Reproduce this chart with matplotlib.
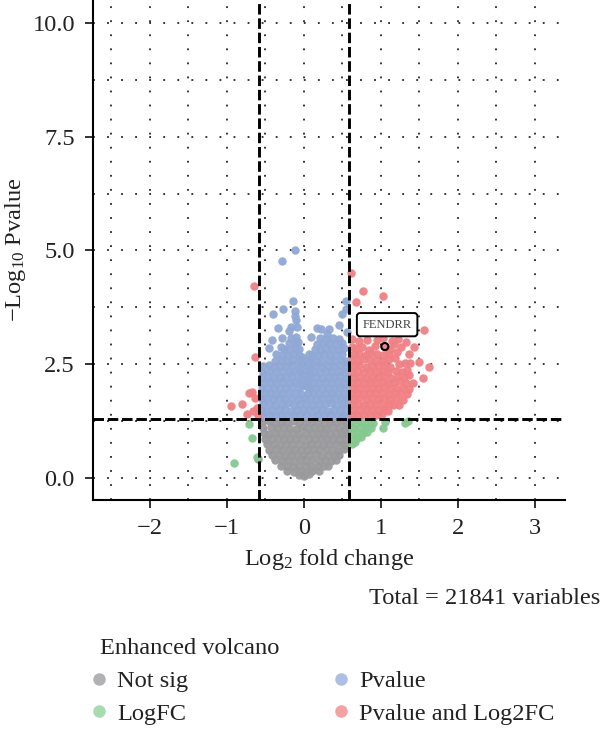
import numpy as np
import matplotlib
matplotlib.use("Agg")
from matplotlib import pyplot as plt
from matplotlib.lines import Line2D
from matplotlib.ticker import MultipleLocator

plt.rcParams['font.family'] = ['Liberation Serif', 'DejaVu Serif']
plt.rcParams['mathtext.fontset'] = 'custom'
plt.rcParams['mathtext.rm'] = 'Liberation Serif'
plt.rcParams['mathtext.default'] = 'regular'

fc_cut = 0.585
p_cut = 1.3

# (log2 fold change, -log10 p) per significance group
not_sig = [
    (-.54,1.23),(-.46,1.25),(-.38,1.22),(-.30,1.24),(-.22,1.23),(-.14,1.25),(-.06,1.22),(.02,1.24),(.10,1.23),(.18,1.25),(.26,1.22),(.34,1.24),(.42,1.23),(.50,1.25),(.55,1.22),
    (-.53,1.11),(-.43,1.12),(-.35,1.10),(-.27,1.12),(-.19,1.11),(-.11,1.09),(-.03,1.12),(.05,1.10),(.13,1.12),(.21,1.11),(.29,1.09),(.37,1.12),(.45,1.10),(.55,1.11),
    (-.52,.99),(-.46,.98),(-.38,1.0),(-.30,.98),(-.22,.99),(-.14,1.0),(-.06,.97),(.02,.99),(.10,1.0),(.18,.98),(.26,.99),(.34,.97),(.42,1.0),(.50,.98),(.55,.99),
    (-.50,.87),(-.42,.86),(-.34,.88),(-.26,.86),(-.18,.87),(-.10,.85),(-.02,.88),(.06,.86),(.14,.87),(.22,.88),(.30,.85),(.38,.87),(.46,.86),(.55,.87),
    (-.48,.74),(-.39,.75),(-.31,.73),(-.23,.75),(-.15,.74),(-.07,.76),(.01,.73),(.09,.75),(.17,.74),(.25,.73),(.33,.75),(.41,.74),(.49,.76),(.55,.73),
    (-.45,.62),(-.36,.63),(-.28,.61),(-.20,.62),(-.12,.63),(-.04,.61),(.04,.62),(.12,.64),(.20,.61),(.28,.63),(.36,.62),(.44,.60),(.52,.63),
    (-.42,.50),(-.33,.51),(-.25,.49),(-.17,.50),(-.09,.51),(-.01,.49),(.07,.50),(.15,.52),(.23,.49),(.31,.50),(.39,.51),(.46,.50),
    (-.37,.39),(-.29,.38),(-.21,.39),(-.13,.37),(-.05,.39),(.03,.38),(.11,.40),(.19,.37),(.27,.39),(.35,.38),(.41,.39),
    (-.30,.26),(-.22,.27),(-.14,.25),(-.06,.27),(.02,.26),(.10,.25),(.18,.27),(.26,.26),(.31,.27),
    (-.22,.16),(-.13,.14),(-.05,.15),(.03,.13),(.11,.15),(.19,.16),
    (-.07,.07),(.0,.04),(.06,.08),(-.60,.42),
]
logfc_only = [
    (.63,1.23),(.71,1.25),(.79,1.22),(.86,1.24),(.90,1.22),
    (.64,1.11),(.72,1.12),(.80,1.10),(.87,1.11),
    (.63,.99),(.70,.98),(.77,1.0),(.82,1.02),
    (.63,.87),(.69,.88),(.74,.91),
    (.62,.76),(.66,.79),
    (-.71,1.19),(-.68,.89),(-.91,.34),(-.61,.47),(1.05,1.24),(1.02,1.10),(1.31,1.22),(1.35,1.25),
]
pvalue_only = [
    (-.53,1.36),(-.46,1.39),(-.38,1.36),(-.30,1.38),(-.22,1.37),(-.14,1.39),(-.06,1.36),(.02,1.38),(.10,1.37),(.18,1.39),(.26,1.36),(.34,1.38),(.42,1.37),(.50,1.39),(.55,1.36),
    (-.54,1.50),(-.49,1.48),(-.41,1.50),(-.33,1.49),(-.25,1.51),(-.17,1.48),(-.09,1.50),(-.01,1.49),(.07,1.51),(.15,1.49),(.23,1.50),(.31,1.48),(.39,1.50),(.47,1.49),(.55,1.51),
    (-.53,1.62),(-.45,1.63),(-.37,1.61),(-.29,1.62),(-.21,1.64),(-.13,1.61),(-.05,1.63),(.03,1.62),(.11,1.61),(.19,1.63),(.27,1.62),(.35,1.64),(.43,1.61),(.51,1.63),(.55,1.62),
    (-.54,1.74),(-.48,1.75),(-.40,1.73),(-.32,1.75),(-.24,1.74),(-.16,1.76),(-.08,1.73),(.0,1.75),(.08,1.74),(.16,1.73),(.24,1.75),(.32,1.74),(.40,1.76),(.48,1.73),(.55,1.75),
    (-.53,1.86),(-.44,1.87),(-.36,1.85),(-.28,1.87),(-.20,1.86),(-.12,1.88),(-.04,1.85),(.05,1.87),(.12,1.86),(.20,1.85),(.28,1.87),(.36,1.86),(.44,1.88),(.52,1.85),
    (-.54,1.98),(-.47,1.99),(-.39,1.97),(-.31,1.99),(-.23,1.98),(-.15,2.0),(-.07,1.97),(.07,1.99),(.15,1.98),(.23,1.97),(.31,1.99),(.39,1.98),(.47,2.0),(.55,1.97),
    (-.53,2.10),(-.44,2.11),(-.36,2.09),(-.28,2.11),(-.20,2.10),(-.12,2.12),(-.05,2.09),(.05,2.11),(.12,2.10),(.20,2.09),(.28,2.11),(.36,2.10),(.44,2.12),(.52,2.09),
    (-.54,2.22),(-.47,2.23),(-.39,2.21),(-.31,2.23),(-.23,2.22),(-.15,2.24),(-.07,2.21),(.07,2.23),(.15,2.22),(.23,2.21),(.31,2.23),(.39,2.22),(.47,2.24),(.55,2.21),
    (-.53,2.34),(-.44,2.35),(-.36,2.33),(-.28,2.35),(-.20,2.34),(-.12,2.36),(-.05,2.33),(.06,2.35),(.13,2.34),(.21,2.33),(.29,2.35),(.37,2.34),(.45,2.36),(.53,2.33),
    (-.53,2.46),(-.46,2.48),(-.39,2.45),(-.31,2.47),(-.23,2.46),(-.15,2.48),(-.07,2.45),(.07,2.47),(.15,2.46),(.23,2.45),(.31,2.47),(.39,2.46),(.47,2.48),(.55,2.45),
    (-.38,2.57),(-.30,2.59),(-.22,2.58),(-.14,2.60),(-.07,2.57),(.08,2.59),(.16,2.58),(.24,2.57),(.32,2.59),(.40,2.58),(.48,2.60),(.55,2.57),
    (-.36,2.72),(-.28,2.70),(-.21,2.71),(-.13,2.73),(-.07,2.70),(.11,2.71),(.18,2.70),(.26,2.72),(.34,2.71),(.42,2.70),(.50,2.72),
    (-.26,2.84),(-.19,2.82),(-.12,2.85),(-.06,2.83),(.14,2.84),(.21,2.82),(.29,2.85),(.37,2.83),(.45,2.82),(.52,2.85),
    (-.19,2.96),(-.12,2.95),(-.08,2.98),(.17,2.95),(.24,2.97),(.33,2.96),(.41,2.94),(.49,2.97),
    (-.17,3.08),(-.11,3.09),(.21,3.07),(.29,3.05),(.38,3.08),(.46,3.06),
    (-.02,2.03),(.05,2.0),(-.02,2.16),(.05,2.2),(-.02,2.29),(.06,2.31),(-.03,2.42),(.05,2.46),(-.03,2.54),(.05,2.6),(-.03,2.66),(.07,2.72),
    (-.12,5.0),(-.28,4.77),(-.14,3.90),(-.27,3.71),(-.40,3.60),(-.12,3.66),(-.12,3.57),(-.34,3.29),(-.11,3.47),
    (-.17,3.31),(-.09,3.31),(-.19,3.24),(-.42,3.04),(-.29,3.08),(-.45,2.86),(-.30,2.87),(.17,3.30),(.22,3.27),
    (.32,3.27),(.30,3.16),(.09,3.11),(.45,3.36),(.49,3.60),(.54,3.71),(.55,3.90),(.56,3.20),
]
both_sig = [
    (.63,1.38),(.70,1.36),(.78,1.39),(.86,1.37),(.94,1.38),(1.01,1.40),
    (.64,1.50),(.72,1.49),(.80,1.51),(.88,1.50),(.96,1.49),(1.04,1.51),(1.09,1.48),
    (.63,1.62),(.70,1.63),(.78,1.61),(.86,1.63),(.94,1.62),(1.02,1.61),(1.10,1.63),(1.16,1.60),(1.23,1.61),
    (.64,1.74),(.72,1.75),(.80,1.73),(.88,1.75),(.96,1.74),(1.04,1.76),(1.12,1.73),(1.19,1.75),(1.28,1.72),
    (.63,1.86),(.70,1.87),(.78,1.85),(.86,1.87),(.94,1.86),(1.02,1.88),(1.10,1.85),(1.18,1.87),(1.25,1.86),(1.34,1.85),
    (.64,1.98),(.72,1.99),(.80,1.97),(.88,1.99),(.96,1.98),(1.04,2.0),(1.12,1.97),(1.20,1.99),(1.29,1.97),(1.37,1.96),
    (.63,2.10),(.70,2.11),(.78,2.09),(.86,2.11),(.94,2.10),(1.02,2.12),(1.09,2.09),(1.17,2.11),(1.25,2.13),(1.33,2.10),(1.41,2.08),
    (.64,2.22),(.72,2.23),(.80,2.21),(.88,2.23),(.96,2.22),(1.04,2.24),(1.13,2.21),(1.22,2.25),(1.30,2.22),(1.36,2.26),(1.55,2.21),
    (.63,2.34),(.70,2.35),(.78,2.33),(.86,2.35),(.94,2.34),(1.02,2.36),(1.09,2.33),(1.19,2.36),(1.27,2.34),(1.34,2.37),
    (.64,2.46),(.72,2.48),(.80,2.45),(.88,2.47),(.96,2.46),(1.04,2.48),(1.12,2.45),(1.24,2.50),(1.31,2.52),(1.38,2.53),(1.49,2.56),(1.62,2.45),
    (.63,2.60),(.70,2.58),(.78,2.61),(.86,2.59),(.94,2.60),(1.02,2.58),(1.10,2.61),(1.18,2.63),
    (.65,2.72),(.72,2.73),(.80,2.70),(.87,2.74),(.95,2.72),(1.03,2.71),(1.11,2.74),(1.21,2.76),(1.36,2.73),(1.43,2.87),
    (.62,2.88),(.68,2.85),(.76,2.87),(.84,2.82),(.92,2.90),(1.05,2.89),(1.12,2.84),(1.17,2.95),(1.26,2.88),(1.32,3.00),
    (.63,3.05),(.72,3.02),(.82,3.03),(.95,3.04),(1.03,3.08),(1.14,3.02),(1.22,3.05),
    (.61,4.51),(.77,4.10),(1.03,3.99),(.67,3.86),(1.56,3.25),(1.16,3.49),
    (-.65,4.21),(-.63,2.67),(-.95,1.59),(-.80,1.62),(-.74,1.41),(-.66,1.47),(-.72,1.87),(-.67,1.90),(-.64,1.77),(-.61,1.55),(-.60,1.38),
]
group_names = ["Not sig", "LogFC", "Pvalue", "Pvalue and Log2FC"]
group_colors = ["#9a9a9c", "#85c98f", "#90a8d6", "#f08084"]
legend_colors = ["#b2b2b4", "#a6dcaf", "#aebfe6", "#f7a0a2"]
group_points = [not_sig, logfc_only, pvalue_only, both_sig]

highlight_fc = 1.05
highlight_p = 2.89
highlight_name = "FENDRR"

text_size = 17.6
text_color = '#222222'

fig = plt.figure(figsize=(6, 7.29), dpi=100)
ax = fig.add_axes([93/600, 1 - 500/729, 472/600, 500/729])

for pts, c in zip(group_points, group_colors):
    xy = np.array(pts)
    ax.scatter(xy[:, 0], xy[:, 1], s=37, color=c, alpha=0.95, linewidths=0, zorder=2)

ax.set_xlim(-2.74, 3.39)
ax.set_ylim(-0.48, 10.5)
ax.xaxis.set_minor_locator(MultipleLocator(0.5))
ax.yaxis.set_minor_locator(MultipleLocator(1.25))
ax.set_yticks([0, 2.5, 5, 7.5, 10], ["0.0", "2.5", "5.0", "7.5", "10.0"])
ax.set_xticks([-2, -1, 0, 1, 2, 3], ["\u22122", "\u22121", "0", "1", "2", "3"])
ax.tick_params(axis='both', which='major', labelsize=text_size, length=6, width=1.3, pad=7, colors=text_color)
ax.tick_params(axis='both', which='minor', length=0)
ax.grid(True, which='both', color='black', linewidth=1.1, linestyle=(0, (1.2, 8)), zorder=1)
ax.set_axisbelow(True)
for side in ['top', 'right']:
    ax.spines[side].set_visible(False)
for side in ['left', 'bottom']:
    ax.spines[side].set_linewidth(1.5)

# significance cut-offs
for v in [-fc_cut, fc_cut]:
    ax.axvline(v, color='black', linewidth=2.1, linestyle=(0, (3.6, 1.3)), zorder=3)
ax.axhline(p_cut, color='black', linewidth=2.1, linestyle=(0, (3.6, 1.3)), zorder=3)

ax.scatter([highlight_fc], [highlight_p], s=26, facecolors='none', edgecolors='black', linewidths=1.5, zorder=4)
ax.text(highlight_fc + 0.03, 3.37, highlight_name, fontsize=9, ha='center', va='center', color='#444444', zorder=5,
        bbox=dict(boxstyle='round,pad=0.45,rounding_size=0.25', facecolor='white', edgecolor='black', linewidth=1.4))

ax.set_xlabel("Log$_2$ fold change", fontsize=text_size, color=text_color, labelpad=6)
ax.set_ylabel("\u2212Log$_{10}$ Pvalue", fontsize=text_size, color=text_color, labelpad=3)

fig.text(600/600, 1 - 598/729, "Total = 21841 variables", fontsize=text_size, ha='right', va='center', color=text_color)
fig.text(100/600, 1 - 648/729, "Enhanced volcano", fontsize=text_size, ha='left', va='center', color=text_color)

handles = [Line2D([], [], linestyle='none', marker='o', markersize=9, markeredgewidth=0, color=c) for c in legend_colors]
fig.legend(handles, group_names, ncol=2, loc='upper left', bbox_to_anchor=(90.5/600, 1 - 670/729),
           frameon=False, fontsize=text_size, labelcolor=text_color, borderpad=0, borderaxespad=0,
           handlelength=0.7, handletextpad=0.39, columnspacing=5.9, labelspacing=0.43)

fig.savefig("out.png", dpi=100)
